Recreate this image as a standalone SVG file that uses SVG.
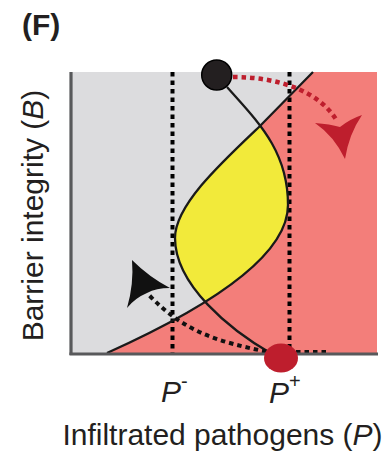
<svg xmlns="http://www.w3.org/2000/svg" width="389" height="452" viewBox="0 0 389 452">
<style>
.txt{font-family:"Liberation Sans",Arial,sans-serif;fill:#231f20}
.curve{fill:none;stroke:#1a1a1a;stroke-width:2.3}
.vdot{fill:none;stroke:#000;stroke-width:4;stroke-dasharray:4.5 4}
.axis{fill:none;stroke:#58595b;stroke-width:3.2}
</style>
<rect width="389" height="452" fill="#fff"/>
<g id="regions">
<rect x="72" y="72" width="305" height="281" fill="#dcdcde"/>
<path d="M107,353 C146.3,335.3 179.6,318 205.5,302.3 C187.67,282.72 175,260.56 175,238 C175,205 222,162 260,126 L313,72 L377,72 L377,353 Z" fill="#f37e7a"/>
<path id="bistable" d="M205.5,302.3 C187.67,282.72 175,260.56 175,238 C175,205 222,162 260.25,125.6 C276.3,147.2 288,171.2 288,205 C288,235 260,267.2 205.5,302.3 Z" fill="#f2ea3a"/>
</g>
<g id="thresholds">
<line class="vdot" x1="172.5" y1="72" x2="172.5" y2="353"/>
<line class="vdot" x1="289.5" y1="72" x2="289.5" y2="353"/>
</g>
<g id="connectors">
<path class="curve" d="M107,353 C225,300 288,250 288,205 C288,150 257,121 227,87"/>
<path class="curve" d="M272,354 C230,330 175,285 175,238 C175,205 222,162 260,126 L313,72"/>
<path d="M233,77 C280,77 320,92 337,121" fill="none" stroke="#be1e2d" stroke-width="4.5" stroke-dasharray="4.5 4"/>
<path d="M326,352 L268,352 C220,342 185,333 149,295" fill="none" stroke="#111" stroke-width="4" stroke-dasharray="4.5 4"/>
<path d="M315,123 Q330,124 340,127 Q350,119 362,115 Q349,134 345,159 Q334,136 315,123 Z" fill="#be1e2d"/>
<path d="M132,260 Q149,277 170,288 Q156,288 147,293 Q135,298 127,308 Q134,284 132,260 Z" fill="#111"/>
</g>
<g id="axes">
<line class="axis" x1="71" y1="72" x2="71" y2="355"/>
<line class="axis" x1="69.5" y1="354" x2="378" y2="354"/>
</g>
<g id="state-high">
<circle cx="216.7" cy="75" r="15" fill="#231f20" stroke="#000" stroke-width="1.5"/>
</g>
<g id="state-low">
<ellipse cx="281" cy="358" rx="17" ry="14.5" fill="#be1e2d"/>
</g>
<g id="labels">
<text class="txt" x="22" y="35" font-size="30" font-weight="bold">(F)</text>
<text class="txt" transform="translate(43,215.5) rotate(-90)" font-size="30" text-anchor="middle">Barrier integrity (<tspan font-style="italic">B</tspan>)</text>
<text class="txt" x="222.5" y="445" font-size="30" text-anchor="middle">Infiltrated pathogens (<tspan font-style="italic">P</tspan>)</text>
<text class="txt" x="161" y="402" font-size="30"><tspan font-style="italic">P</tspan><tspan font-size="20" dy="-14">-</tspan></text>
<text class="txt" x="269" y="403" font-size="30"><tspan font-style="italic">P</tspan><tspan font-size="20" dy="-15">+</tspan></text>
</g>
</svg>
